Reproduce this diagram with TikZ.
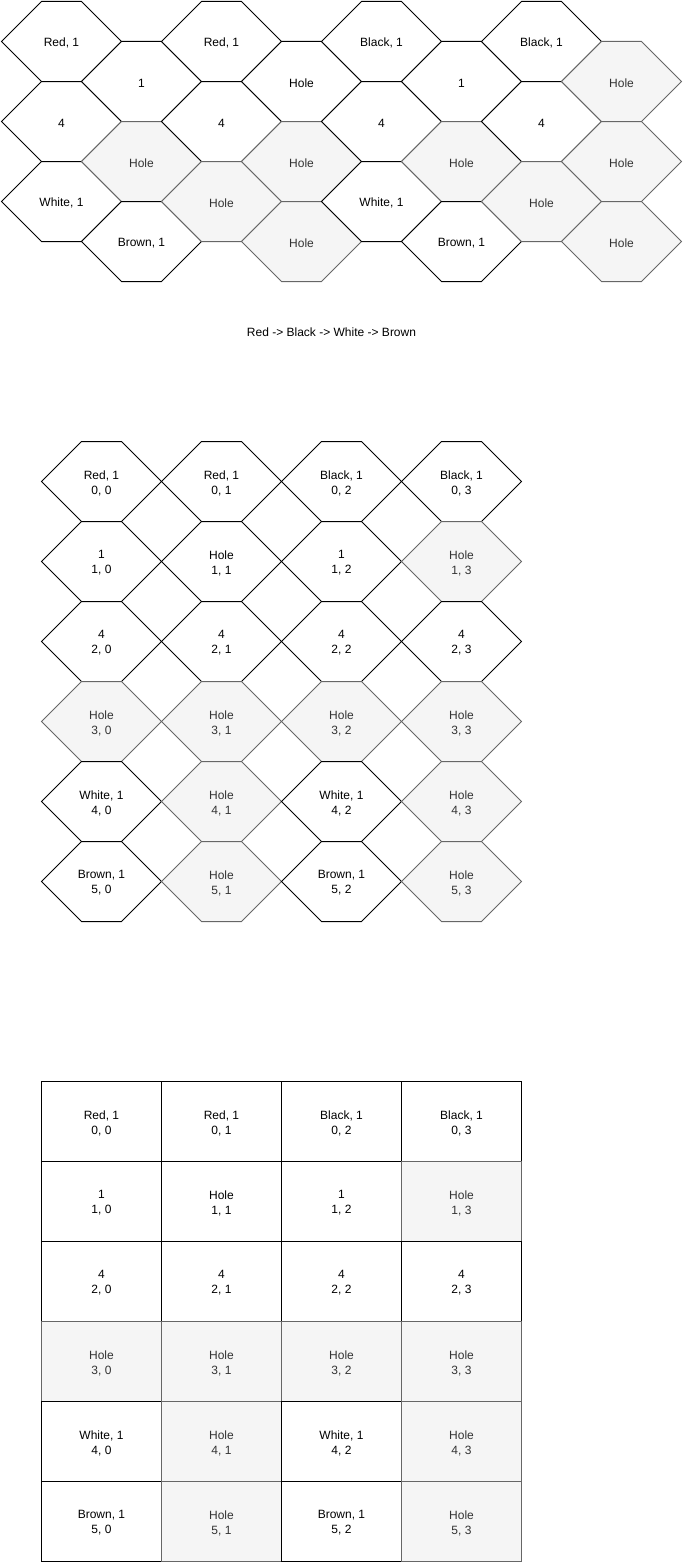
\documentclass[tikz,border=0pt]{standalone}
\usepackage{fontspec}
\setmainfont{Liberation Sans}
\definecolor{strokeg}{HTML}{666666}
\definecolor{fillg}{HTML}{F5F5F5}
\definecolor{textg}{HTML}{333333}
\begin{document}
\begin{tikzpicture}[x=1pt,y=-1pt,
  cellw/.style={draw=black, fill=white, line width=1pt},
  cellg/.style={draw=strokeg, fill=fillg, line width=1pt},
  lbl/.style={font=\fontsize{12}{15}\selectfont, align=center, inner sep=0pt},
]
\useasboundingbox (0,0) rectangle (684,1563);
\def\gridlist{0/0/{Red, 1}/cellw/black, 0/1/{Red, 1}/cellw/black, 0/2/{Black, 1}/cellw/black, 0/3/{Black, 1}/cellw/black,
1/0/1/cellw/black, 1/1/Hole/cellw/black, 1/2/1/cellw/black, 1/3/Hole/cellg/textg,
2/0/4/cellw/black, 2/1/4/cellw/black, 2/2/4/cellw/black, 2/3/4/cellw/black,
3/0/Hole/cellg/textg, 3/1/Hole/cellg/textg, 3/2/Hole/cellg/textg, 3/3/Hole/cellg/textg,
4/0/{White, 1}/cellw/black, 4/1/Hole/cellg/textg, 4/2/{White, 1}/cellw/black, 4/3/Hole/cellg/textg,
5/0/{Brown, 1}/cellw/black, 5/1/Hole/cellg/textg, 5/2/{Brown, 1}/cellw/black, 5/3/Hole/cellg/textg}
% ---- section 1: offset hex grid
\foreach \c/\r/\t/\k/\tc in {0/0/{Red, 1}/cellw/black, 0/1/4/cellw/black, 0/2/{White, 1}/cellw/black,
1/0/1/cellw/black, 1/1/Hole/cellg/textg, 1/2/{Brown, 1}/cellw/black,
2/0/{Red, 1}/cellw/black, 2/1/4/cellw/black, 2/2/Hole/cellg/textg,
3/0/Hole/cellw/black, 3/1/Hole/cellg/textg, 3/2/Hole/cellg/textg,
4/0/{Black, 1}/cellw/black, 4/1/4/cellw/black, 4/2/{White, 1}/cellw/black,
5/0/1/cellw/black, 5/1/Hole/cellg/textg, 5/2/{Brown, 1}/cellw/black,
6/0/{Black, 1}/cellw/black, 6/1/4/cellw/black, 6/2/Hole/cellg/textg,
7/0/Hole/cellg/textg, 7/1/Hole/cellg/textg, 7/2/Hole/cellg/textg}{
  \pgfmathsetmacro\xo{1.5+80*\c}
  \pgfmathsetmacro\yo{1.5+40*mod(\c,2)+80*\r}
  \path[\k] (\xo,\yo+40) -- ++(40,-40) -- ++(40,0) -- ++(40,40) -- ++(-40,40) -- ++(-40,0) -- cycle;
  \node[lbl,text=\tc] (a-\c-\r) at (\xo+60,\yo+41.5) {\t};
}
\node[lbl] (order) at (331.5,332) {Red -> Black -> White -> Brown};
% ---- section 2: hex grid with indices
\foreach \r/\c/\t/\k/\tc in \gridlist {
  \pgfmathsetmacro\xo{41.5+120*\c}
  \pgfmathsetmacro\yo{441.5+80*\r}
  \path[\k] (\xo,\yo+40) -- ++(40,-40) -- ++(40,0) -- ++(40,40) -- ++(-40,40) -- ++(-40,0) -- cycle;
  \node[lbl,text=\tc] (b-\r-\c) at (\xo+60,\yo+41.5) {\t\\\r, \c};
}
% ---- section 3: square grid with indices
\foreach \r/\c/\t/\k/\tc in \gridlist {
  \pgfmathsetmacro\xo{41.5+120*\c}
  \pgfmathsetmacro\yo{1081.5+80*\r}
  \path[\k] (\xo,\yo) rectangle ++(120,80);
  \node[lbl,text=\tc] (c-\r-\c) at (\xo+60,\yo+41.5) {\t\\\r, \c};
}
\end{tikzpicture}
\end{document}
